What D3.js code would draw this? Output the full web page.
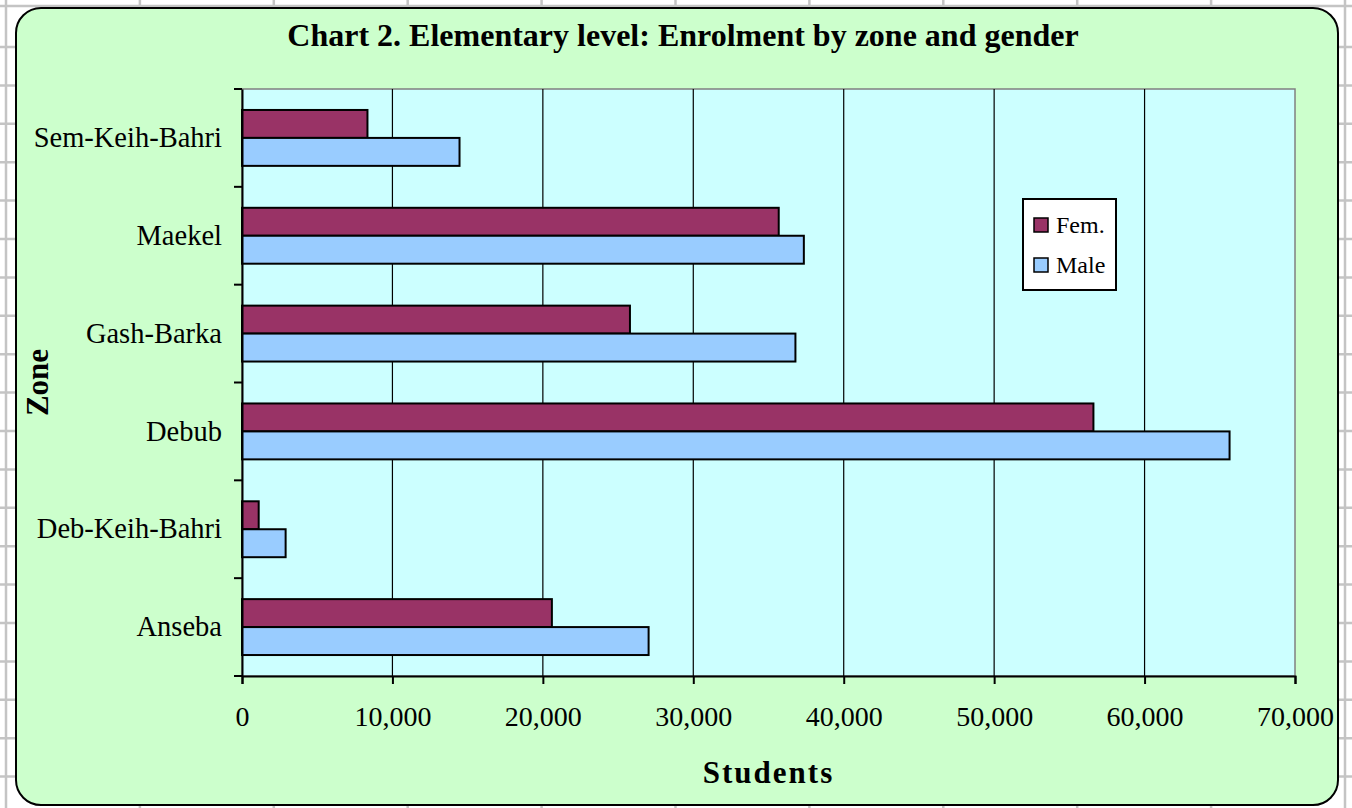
<!DOCTYPE html>
<html>
<head>
<meta charset="utf-8">
<script src="https://cdn.jsdelivr.net/npm/d3@7"></script>
<style>
  html, body { margin: 0; padding: 0; background: #fff; }
  svg { display: block; }
  text { font-family: "Liberation Serif", "Times New Roman", serif; fill: #000; }
</style>
</head>
<body>
<div id="chart"></div>
<script>
// zones, top to bottom as drawn
const zones = ['Sem-Keih-Bahri', 'Maekel', 'Gash-Barka', 'Debub', 'Deb-Keih-Bahri', 'Anseba'];
const series = ['Fem.', 'Male'];
const fem  = [8340, 35680, 25790, 56600, 1110, 20600];
const male = [14460, 37350, 36790, 65650, 2900, 27030];
const xTicks = [0, 10000, 20000, 30000, 40000, 50000, 60000, 70000];
const colores = { 'Fem.': '#993366', 'Male': '#99ccff' };

const largura = 1352, altura = 808;
const margem = { top: 89, right: 57, bottom: 132, left: 242 };
const w = largura - margem.left - margem.right;
const h = altura - margem.top - margem.bottom;

const svg = d3.select('#chart')
    .append('svg')
    .attr('width', largura)
    .attr('height', altura);

// fundo tipo planilha
const grade = svg.append('g').attr('stroke', '#c4c4c4').attr('stroke-width', 2.5);
grade.selectAll('.col')
    .data(d3.range(6, largura, 133.9))
    .enter().append('line')
    .attr('x1', d => d).attr('x2', d => d)
    .attr('y1', 0).attr('y2', altura);
grade.selectAll('.row')
    .data([6].concat(d3.range(47, altura, 38.4)))
    .enter().append('line')
    .attr('x1', 0).attr('x2', largura)
    .attr('y1', d => d).attr('y2', d => d);

// area do grafico
svg.append('rect')
    .attr('x', 16).attr('y', 8)
    .attr('width', 1322).attr('height', 797)
    .attr('rx', 25).attr('ry', 25)
    .attr('fill', '#ccffcc')
    .attr('stroke', '#000')
    .attr('stroke-width', 2);

const g = svg.append('g').attr('transform', `translate(${margem.left},${margem.top})`);

const x = d3.scaleLinear().domain([0, 70000]).range([0, w]);
const y = d3.scaleBand().domain(zones).range([0, h]).paddingInner(0.4286).paddingOuter(0.2143);
const ySub = d3.scaleBand().domain(series).range([0, y.bandwidth()]);
const yFull = d3.scaleBand().domain(zones).range([0, h]);

// plot area
g.append('rect')
    .attr('width', w).attr('height', h)
    .attr('fill', '#ccffff')
    .attr('stroke', '#808080')
    .attr('stroke-width', 1.5);

// linhas de grade
g.append('g')
    .selectAll('line')
    .data(xTicks.slice(1, -1))
    .enter().append('line')
    .attr('x1', d => x(d)).attr('x2', d => x(d))
    .attr('y1', 0).attr('y2', h)
    .attr('stroke', '#000')
    .attr('stroke-width', 1.2);

// barras
const dados = zones.map((z, i) => ({ zona: z, valores: [{ s: 'Fem.', v: fem[i] }, { s: 'Male', v: male[i] }] }));
const grupos = g.selectAll('.grupo')
    .data(dados)
    .enter().append('g')
    .attr('transform', d => `translate(0,${y(d.zona)})`);
grupos.selectAll('rect')
    .data(d => d.valores)
    .enter().append('rect')
    .attr('x', 0)
    .attr('y', d => ySub(d.s))
    .attr('width', d => x(d.v))
    .attr('height', ySub.bandwidth())
    .attr('fill', d => colores[d.s])
    .attr('stroke', '#000')
    .attr('stroke-width', 2);

// eixo x
const eixoX = g.append('g')
    .attr('transform', `translate(0,${h})`)
    .call(d3.axisBottom(x).tickValues(xTicks).tickSize(8).tickPadding(22)
        .tickFormat(d => d === 0 ? '0' : d3.format(',')(d)));
eixoX.select('.domain').attr('stroke', '#000').attr('stroke-width', 2);
eixoX.selectAll('line').attr('stroke', '#000').attr('stroke-width', 2);
eixoX.selectAll('text')
    .style('font-family', '"Liberation Serif", serif')
    .style('font-size', '28px');

// eixo y
const eixoY = g.append('g')
    .call(d3.axisLeft(yFull).tickSize(0).tickPadding(20));
eixoY.select('.domain').attr('stroke', '#000').attr('stroke-width', 2);
eixoY.selectAll('text')
    .style('font-family', '"Liberation Serif", serif')
    .style('font-size', '28.5px');
g.append('g')
    .selectAll('line')
    .data(d3.range(zones.length + 1).map(i => i * yFull.step()))
    .enter().append('line')
    .attr('x1', -8).attr('x2', 0)
    .attr('y1', d => d).attr('y2', d => d)
    .attr('stroke', '#000').attr('stroke-width', 2);

// titulos
svg.append('text')
    .attr('x', 683).attr('y', 46)
    .attr('text-anchor', 'middle')
    .style('font-size', '32px')
    .style('font-weight', 'bold')
    .text('Chart 2. Elementary level: Enrolment by zone and gender');

svg.append('text')
    .attr('x', margem.left + w / 2).attr('y', 783)
    .attr('text-anchor', 'middle')
    .style('font-size', '31px')
    .style('font-weight', 'bold')
    .style('letter-spacing', '2px')
    .text('Students');

svg.append('text')
    .attr('transform', `translate(48,${margem.top + h / 2}) rotate(-90)`)
    .attr('text-anchor', 'middle')
    .style('font-size', '31px')
    .style('font-weight', 'bold')
    .text('Zone');

// legenda
const legenda = svg.append('g').attr('transform', 'translate(1023,199)');
legenda.append('rect')
    .attr('width', 93).attr('height', 91)
    .attr('fill', '#fff')
    .attr('stroke', '#000')
    .attr('stroke-width', 2);
const itens = legenda.selectAll('.item')
    .data(series)
    .enter().append('g')
    .attr('transform', (d, i) => `translate(11,${19 + i * 40})`);
itens.append('rect')
    .attr('width', 14).attr('height', 14)
    .attr('fill', d => colores[d])
    .attr('stroke', '#000')
    .attr('stroke-width', 1.5);
itens.append('text')
    .attr('x', 22).attr('y', 15)
    .style('font-size', '24px')
    .text(d => d);
</script>
</body>
</html>
